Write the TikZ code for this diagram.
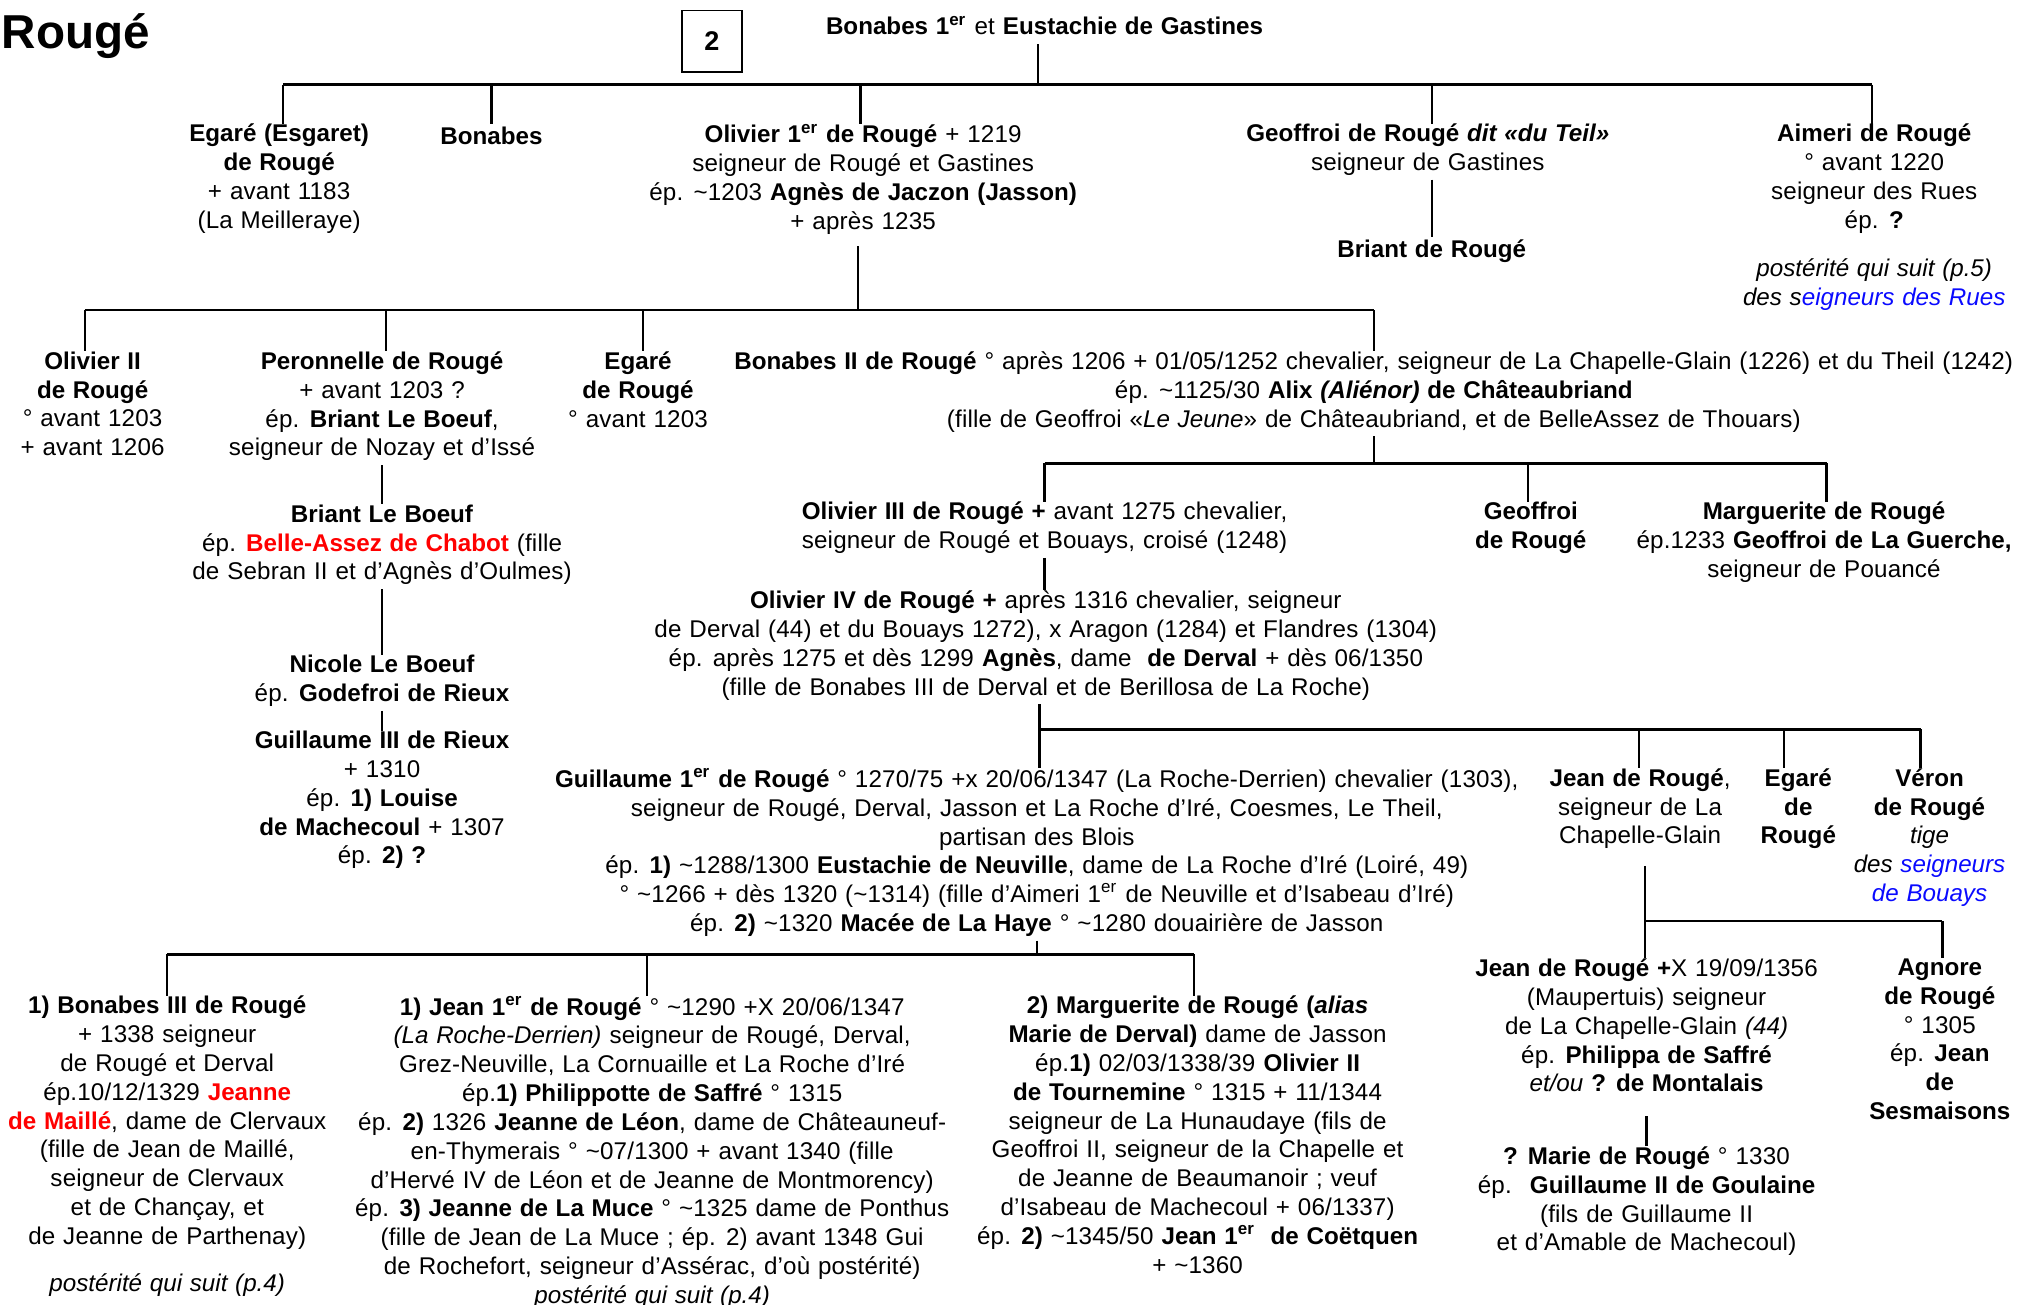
\documentclass[tikz,border=0pt]{standalone}
\usepackage{fontspec}
\setmainfont{Liberation Sans}[WordSpace=1.15, UprightFeatures={LetterSpace=0.7}]
\usetikzlibrary{positioning}

\definecolor{rouge}{RGB}{255,0,0}
\definecolor{bleu}{RGB}{10,10,255}
\newcommand{\ier}{\textsuperscript{er}}
\newcommand{\nom}[1]{\textbf{#1}}
\newcommand{\circa}{\textasciitilde}

\tikzset{
  pers/.style={anchor=north, align=center, inner sep=0pt, yshift=-1.5pt,
    font=\fontsize{9.4}{11.2}\selectfont,
    execute at begin node=\strut, execute at end node=\strut},
  link/.style={line width=0.9pt},
  bar/.style={line width=1.1pt},
}

\begin{document}
\begin{tikzpicture}[x=0.5pt,y=-0.5pt]
  \useasboundingbox (0,0) rectangle (1568,1014);
  \node[anchor=west, inner sep=0pt, font=\fontsize{18.5}{22}\selectfont\bfseries] (titre) at (1,28) {Rougé};
  \node[draw, line width=0.6pt, minimum width=23.5pt, minimum height=24pt, inner sep=0pt,
        font=\fontsize{10.5}{12}\selectfont\bfseries] (page) at (553.5,32) {2};

  % Bonabes 1er
  \node[pers] (bonabes1) at (812,8) {\nom{Bonabes 1\ier} et \nom{Eustachie de Gastines}};
  \node[pers] (egare) at (217,93) {\nom{Egaré (Esgaret)}\\ \nom{de Rougé}\\ + avant 1183\\ (La Meilleraye)};
  \node[pers] (bonabes) at (382,93) {\nom{Bonabes}};
  \node[pers] (olivier1) at (671,93) {\nom{Olivier 1\ier\ de Rougé} + 1219\\ seigneur de Rougé et Gastines\\
    ép. \circa1203 \nom{Agnès de Jaczon (Jasson)}\\ + après 1235};
  \node[pers] (geoffroi) at (1110,93) {\nom{Geoffroi de Rougé \textit{dit «du Teil»}}\\ seigneur de Gastines};
  \node[pers] (briant) at (1113,181) {\nom{Briant de Rougé}};
  \node[pers] (aimeri) at (1457,93) {\nom{Aimeri de Rougé}\\ ° avant 1220\\ seigneur des Rues\\ ép. \nom{?}\\[7.5pt]
    \textit{postérité qui suit (p.5)}\\ \textit{des s\textcolor{bleu}{eigneurs des Rues}}};

  \coordinate (c0) at (807,66);
  \coordinate (d1) at (220,66);
  \coordinate (d2) at (382,66);
  \coordinate (d3) at (669,66);
  \coordinate (d4) at (1113,66);
  \coordinate (d5) at (1455,66);
  \draw[bar] (d1) -- (d5);
  \draw[link] (c0 |- bonabes1.south) -- (c0);
  \foreach \d/\n in {d1/egare, d2/bonabes, d3/olivier1, d4/geoffroi, d5/aimeri}
    \draw[link] (\d) -- (\d |- \n.north);
  \draw[link] (geoffroi.south -| d4) -- (d4 |- briant.north);

  % Olivier 1er
  \node[pers] (olivier2) at (72,270) {\nom{Olivier II}\\ \nom{de Rougé}\\ ° avant 1203\\ + avant 1206};
  \node[pers] (peronnelle) at (297,270) {\nom{Peronnelle de Rougé}\\ + avant 1203 ?\\ ép. \nom{Briant Le Boeuf},\\
    seigneur de Nozay et d’Issé};
  \node[pers] (briantlb) at (297,389) {\nom{Briant Le Boeuf}\\ ép. \textcolor{rouge}{\nom{Belle-Assez de Chabot}} (fille\\
    de Sebran II et d’Agnès d’Oulmes)};
  \node[pers] (nicole) at (297,506) {\nom{Nicole Le Boeuf}\\ ép. \nom{Godefroi de Rieux}};
  \node[pers] (guillaume3) at (297,565) {\nom{Guillaume III de Rieux}\\ + 1310\\ ép. \nom{1) Louise}\\
    \nom{de Machecoul} + 1307\\ ép. \nom{2) ?}};
  \node[pers] (egare2) at (496,270) {\nom{Egaré}\\ \nom{de Rougé}\\ ° avant 1203};
  \node[pers] (bonabes2) at (1068,270) {\nom{Bonabes II de Rougé} ° après 1206 + 01/05/1252 chevalier, seigneur de La Chapelle-Glain (1226) et du Theil (1242)\\
    ép. \circa1125/30 \nom{Alix \textit{(Aliénor)} de Châteaubriand}\\
    (fille de Geoffroi «\textit{Le Jeune}» de Châteaubriand, et de BelleAssez de Thouars)};

  \coordinate (e0) at (667,241);
  \coordinate (e1) at (66,241);
  \coordinate (e2) at (300,241);
  \coordinate (e3) at (500,241);
  \coordinate (e4) at (1068,241);
  \draw[bar] (e1) -- (e4);
  \draw[link, shorten <=3pt] (e0 |- olivier1.south) -- (e0);
  \foreach \d/\n in {e1/olivier2, e2/peronnelle, e3/egare2, e4/bonabes2}
    \draw[link] (\d) -- (\d |- \n.north);
  \draw[link] (peronnelle.south) -- (briantlb.north);
  \draw[link] (briantlb.south) -- (nicole.north);
  \draw[link] (nicole.south) -- (guillaume3.north);

  % Bonabes II
  \node[pers] (olivier3) at (812,387) {\nom{Olivier III de Rougé +} avant 1275 chevalier,\\ seigneur de Rougé et Bouays, croisé (1248)};
  \node[pers] (geoffroi2) at (1190,387) {\nom{Geoffroi}\\ \nom{de Rougé}};
  \node[pers] (marguerite) at (1418,387) {\nom{Marguerite de Rougé}\\ ép.1233 \nom{Geoffroi de La Guerche,}\\ seigneur de Pouancé};
  \node[pers] (olivier4) at (813,456) {\nom{Olivier IV de Rougé +} après 1316 chevalier, seigneur\\
    de Derval (44) et du Bouays 1272), x Aragon (1284) et Flandres (1304)\\
    ép. après 1275 et dès 1299 \nom{Agnès}, dame~ \nom{de Derval} + dès 06/1350\\
    (fille de Bonabes III de Derval et de Berillosa de La Roche)};

  \coordinate (f1) at (812,360);
  \coordinate (f2) at (1188,360);
  \coordinate (f3) at (1420,360);
  \draw[bar] (f1) -- (f3);
  \draw[link] (bonabes2.south) -- (bonabes2.south |- f1);
  \foreach \d/\n in {f1/olivier3, f2/geoffroi2, f3/marguerite}
    \draw[link] (\d) -- (\d |- \n.north);
  \draw[link] (olivier3.south -| f1) -- (f1 |- olivier4.north);

  % Olivier IV
  \node[pers] (guillaume) at (806,594) {\nom{Guillaume 1\ier\ de Rougé} ° 1270/75 +x 20/06/1347 (La Roche-Derrien) chevalier (1303),\\
    seigneur de Rougé, Derval, Jasson et La Roche d’Iré, Coesmes, Le Theil,\\
    partisan des Blois\\
    ép. \nom{1)} \circa1288/1300 \nom{Eustachie de Neuville}, dame de La Roche d’Iré (Loiré, 49)\\
    ° \circa1266 + dès 1320 (\circa1314) (fille d’Aimeri 1\ier\ de Neuville et d’Isabeau d’Iré)\\
    ép. \nom{2)} \circa1320 \nom{Macée de La Haye} ° \circa1280 douairière de Jasson};
  \node[pers] (jean) at (1275,594) {\nom{Jean de Rougé},\\ seigneur de La\\ Chapelle-Glain};
  \node[pers] (egare3) at (1398,594) {\nom{Egaré}\\ \nom{de}\\ \nom{Rougé}};
  \node[pers] (veron) at (1500,594) {\nom{Véron}\\ \nom{de Rougé}\\ \textit{tige}\\
    \textit{des \textcolor{bleu}{seigneurs}}\\ \textcolor{bleu}{\textit{de Bouays}}};

  \coordinate (g1) at (808,567);
  \coordinate (g2) at (1274,567);
  \coordinate (g3) at (1387,567);
  \coordinate (g4) at (1493,567);
  \draw[bar] (g1) -- (g4);
  \draw[link] (olivier4.south -| g1) -- (g1 |- guillaume.north);
  \foreach \d/\n in {g2/jean, g3/egare3, g4/veron}
    \draw[link] (\d) -- (\d |- \n.north);

  % Jean de Rouge, La Chapelle-Glain
  \node[pers] (jean2) at (1280,742) {\nom{Jean de Rougé +}X 19/09/1356\\ (Maupertuis) seigneur\\
    de La Chapelle-Glain \textit{(44)}\\ ép. \nom{Philippa de Saffré}\\ \textit{et/ou} \nom{? de Montalais}};
  \node[pers] (marie) at (1280,888) {\nom{? Marie de Rougé} ° 1330\\ ép.~ \nom{Guillaume II de Goulaine}\\
    (fils de Guillaume II\\ et d’Amable de Machecoul)};
  \node[pers] (agnore) at (1508,742) {\nom{Agnore}\\ \nom{de Rougé}\\ ° 1305\\ ép. \nom{Jean}\\ \nom{de}\\ \nom{Sesmaisons}};

  \coordinate (h1) at (1279,716);
  \coordinate (h2) at (1510,716);
  \draw[bar] (h1) -- (h2);
  \draw[link, shorten <=5pt] (h1 |- jean.south) -- (h1);
  \foreach \d/\n in {h1/jean2, h2/agnore}
    \draw[link] (\d) -- (\d |- \n.north);
  \draw[link, shorten <=6pt] (jean2.south) -- (marie.north);

  % Guillaume 1er
  \node[pers] (bonabes3) at (130,771) {\nom{1) Bonabes III de Rougé}\\ + 1338 seigneur\\ de Rougé et Derval\\
    ép.10/12/1329 \textcolor{rouge}{\nom{Jeanne}}\\ \textcolor{rouge}{\nom{de Maillé}}, dame de Clervaux\\
    (fille de Jean de Maillé,\\ seigneur de Clervaux\\ et de Chançay, et\\ de Jeanne de Parthenay)\\[7pt]
    \textit{postérité qui suit (p.4)}};
  \node[pers] (jean1) at (507,771) {\nom{1) Jean 1\ier\ de Rougé} ° \circa1290 +X 20/06/1347\\
    \textit{(La Roche-Derrien)} seigneur de Rougé, Derval,\\
    Grez-Neuville, La Cornuaille et La Roche d’Iré\\
    ép.\nom{1) Philippotte de Saffré} ° 1315\\
    ép. \nom{2)} 1326 \nom{Jeanne de Léon}, dame de Châteauneuf-\\
    en-Thymerais ° \circa07/1300 + avant 1340 (fille\\
    d’Hervé IV de Léon et de Jeanne de Montmorency)\\
    ép. \nom{3) Jeanne de La Muce} ° \circa1325 dame de Ponthus\\
    (fille de Jean de La Muce ; ép. 2) avant 1348 Gui\\
    de Rochefort, seigneur d’Assérac, d’où postérité)\\
    \textit{postérité qui suit (p.4)}};
  \node[pers] (marguerite2) at (931,771) {\nom{2) Marguerite de Rougé (\textit{alias}}\\
    \nom{Marie de Derval)} dame de Jasson\\
    ép.\nom{1)} 02/03/1338/39 \nom{Olivier II}\\
    \nom{de Tournemine} ° 1315 + 11/1344\\
    seigneur de La Hunaudaye (fils de\\
    Geoffroi II, seigneur de la Chapelle et\\
    de Jeanne de Beaumanoir ; veuf\\
    d’Isabeau de Machecoul + 06/1337)\\
    ép. \nom{2)} \circa1345/50 \nom{Jean 1\ier~ de Coëtquen}\\
    + \circa1360};

  \coordinate (k0) at (806,742);
  \coordinate (k1) at (130,742);
  \coordinate (k2) at (503,742);
  \coordinate (k3) at (928,742);
  \draw[bar] (k1) -- (k3);
  \draw[link] (k0 |- guillaume.south) -- (k0);
  \foreach \d/\n in {k1/bonabes3, k2/jean1, k3/marguerite2}
    \draw[link] (\d) -- (\d |- \n.north);
\end{tikzpicture}
\end{document}
